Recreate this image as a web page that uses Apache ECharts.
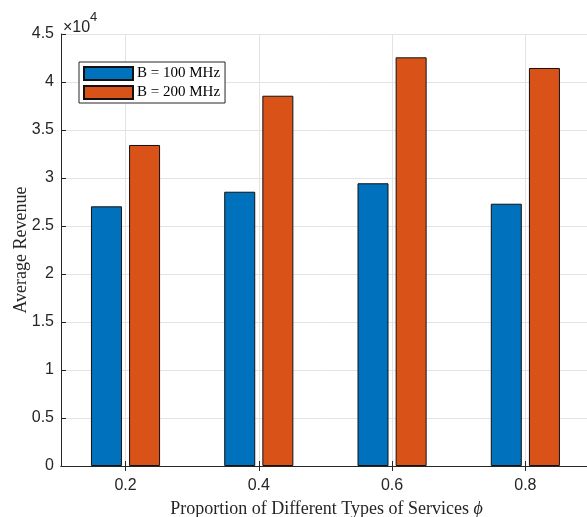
<!DOCTYPE html>
<html>
<head>
<meta charset="utf-8">
<script src="https://cdn.jsdelivr.net/npm/echarts@6/dist/echarts.min.js"></script>
<style>html,body{margin:0;padding:0;background:#fff;}#c{width:587px;height:517px;}</style>
</head>
<body>
<div id="c"></div>
<script>
const categories = [0.2, 0.4, 0.6, 0.8];
const seriesNames = ['B = 100 MHz', 'B = 200 MHz'];
const revenue100 = [27050, 28570, 29450, 27320];
const revenue200 = [33440, 38570, 42570, 41460];
const yTicks = [0, 0.5, 1, 1.5, 2, 2.5, 3, 3.5, 4, 4.5];

const AX = '#262626';
const sans = 'Liberation Sans';
const serif = 'Liberation Serif';

const chart = echarts.init(document.getElementById('c'));
const xCommon = {
  type: 'value', min: 0.1032, max: 0.9,
  axisLine: { show: true, lineStyle: { color: AX, width: 1 } },
  axisTick: { show: true, inside: true, length: 5, customValues: categories, lineStyle: { color: AX } },
};
const yCommon = {
  type: 'value', min: 0, max: 45000, interval: 5000,
  axisLine: { show: true, lineStyle: { color: AX, width: 1 } },
  axisTick: { show: true, inside: true, length: 5, lineStyle: { color: AX } },
};
chart.setOption({
  animation: false,
  backgroundColor: '#fff',
  grid: { left: 61, top: 34, width: 531, height: 432, containLabel: false, outerBoundsMode: 'none' },
  legend: {
    left: 79, top: 62, orient: 'vertical',
    data: seriesNames,
    icon: 'rect', itemWidth: 49, itemHeight: 13, itemGap: 4,
    backgroundColor: '#fff', borderColor: AX, borderWidth: 1,
    padding: [4, 5, 3, 4],
    textStyle: { fontFamily: serif, fontSize: 15, color: '#000', lineHeight: 13, padding: [0, 0, 0, -1] }
  },
  xAxis: [
    Object.assign({}, xCommon, {
      position: 'bottom',
      axisLabel: { show: true, customValues: categories, margin: 12, fontFamily: sans, fontSize: 16, color: AX,
        formatter: v => String(Math.round(v * 10) / 10) },
      splitLine: { show: true, lineStyle: { color: '#e3e3e3', width: 1 } },
      name: 'Proportion of Different Types of Services {i|ϕ}',
      nameLocation: 'middle', nameGap: 34, nameMoveOverlap: false,
      nameTextStyle: { fontFamily: serif, fontSize: 18, color: AX,
        rich: { i: { fontFamily: serif, fontStyle: 'italic', fontSize: 18, color: AX } } }
    }),
    Object.assign({}, xCommon, {
      position: 'top', axisLabel: { show: false }, splitLine: { show: false }
    })
  ],
  yAxis: [
    Object.assign({}, yCommon, {
      position: 'left',
      axisLabel: { show: true, margin: 7, fontFamily: sans, fontSize: 16, color: AX,
        formatter: v => String(yTicks[Math.round(v / 5000)]) },
      splitLine: { show: true, lineStyle: { color: '#e3e3e3', width: 1 } },
      name: 'Average Revenue', nameLocation: 'middle', nameGap: 31, nameMoveOverlap: false,
      nameTextStyle: { fontFamily: serif, fontSize: 18, color: AX }
    }),
    Object.assign({}, yCommon, {
      position: 'right', axisLabel: { show: false }, splitLine: { show: false }
    })
  ],
  graphic: [
    { type: 'text', left: 63, top: 19.5, style: { text: '×10', font: '16px "Liberation Sans"', fill: AX } },
    { type: 'text', left: 90, top: 11, style: { text: '4', font: '13px "Liberation Sans"', fill: AX } }
  ],
  series: [
    { name: seriesNames[0], type: 'bar', xAxisIndex: 0, yAxisIndex: 0,
      barWidth: 31, barGap: '23%',
      itemStyle: { color: '#0072BD', borderColor: '#111', borderWidth: 1 },
      data: categories.map((c, i) => [c, revenue100[i]]) },
    { name: seriesNames[1], type: 'bar', xAxisIndex: 0, yAxisIndex: 0,
      barWidth: 31, barGap: '23%',
      itemStyle: { color: '#D95319', borderColor: '#111', borderWidth: 1 },
      data: categories.map((c, i) => [c, revenue200[i]]) }
  ]
});
</script>
</body>
</html>
